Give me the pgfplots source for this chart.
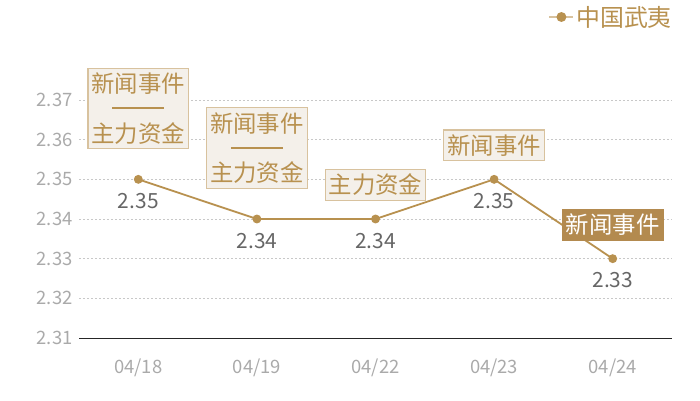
\documentclass[border=0pt]{standalone}
\usepackage{fontspec}
\setmainfont{Noto Sans CJK SC}
\usepackage{pgfplots}
\pgfplotsset{compat=1.18}
\definecolor{gold}{HTML}{B8914F}
\definecolor{boxfill}{HTML}{F4F0EA}
\definecolor{boxdraw}{HTML}{D8C29E}
\definecolor{darkbox}{HTML}{B38A4F}
\definecolor{ticklab}{HTML}{AAAAAA}
\definecolor{datalab}{HTML}{666666}
\definecolor{gridc}{HTML}{C8C8C8}
\begin{document}
\begin{tikzpicture}[x=1bp,y=1bp]
\path[use as bounding box] (0,0) rectangle (700,400);
\begin{axis}[
  at={(79bp,62bp)}, anchor=south west,
  scale only axis, width=593bp, height=238bp,
  xmin=-0.5, xmax=4.5, ymin=2.31, ymax=2.37,
  xtick={0,1,2,3,4}, xticklabels={04/18,04/19,04/22,04/23,04/24},
  ytick={2.31,2.32,2.33,2.34,2.35,2.36,2.37},
  /pgf/number format/assume math mode=true,
  yticklabel style={/pgf/number format/fixed,/pgf/number format/precision=2,/pgf/number format/fixed zerofill,
    font=\fontsize{18.5}{18.5}\selectfont, text=ticklab, xshift=-3bp},
  xticklabel style={font=\fontsize{18.5}{18.5}\selectfont, text=ticklab, yshift=-17bp},
  axis x line*=bottom, axis y line*=left,
  x axis line style={draw=black!85, line width=0.8bp},
  y axis line style={draw=none},
  major tick length=0,
  ymajorgrids, grid style={gridc, dash pattern=on 2bp off 2bp, line width=0.6bp},
  clip=false,
  legend style={at={(1,1)}, anchor=east, yshift=83bp, xshift=2bp, draw=none, fill=none, inner sep=0pt,
    font=\fontsize{24}{24}\selectfont, text=gold},
  legend image code/.code={\draw[boxdraw, line width=1.5bp] (0bp,0bp) -- (24bp,0bp);
    \fill[gold] (12bp,0bp) circle (4bp);},
]
\addplot[gold, line width=1.8bp, mark=*, mark size=3.5bp, mark options={fill=gold, draw=gold},
  nodes near coords,
  nodes near coords style={anchor=north, inner sep=0pt, yshift=-13bp, text=datalab,
    font=\fontsize{21}{21}\selectfont,
    /pgf/number format/fixed,/pgf/number format/precision=2,/pgf/number format/fixed zerofill}]
  coordinates {(0,2.35) (1,2.34) (2,2.34) (3,2.35) (4,2.33)};
\addlegendentry{中国武夷}
\tikzset{ann/.style={anchor=south, fill=boxfill, draw=boxdraw, line width=1.2bp, text=gold,
  inner xsep=3.5bp, inner ysep=4.5bp, align=center, font=\fontsize{23.5}{25}\selectfont}}
\node[ann, yshift=30bp] at (axis cs:0,2.35) {新闻事件\\\rule[0.35em]{52bp}{1.8bp}\\主力资金};
\node[ann, yshift=30bp] at (axis cs:1,2.34) {新闻事件\\\rule[0.35em]{52bp}{1.8bp}\\主力资金};
\node[ann, yshift=18bp] at (axis cs:2,2.34) {主力资金};
\node[ann, yshift=18bp] at (axis cs:3,2.35) {新闻事件};
\node[ann, yshift=18bp, fill=darkbox, draw=darkbox, text=white] at (axis cs:4,2.33) {新闻事件};
\end{axis}
\end{tikzpicture}
\end{document}
